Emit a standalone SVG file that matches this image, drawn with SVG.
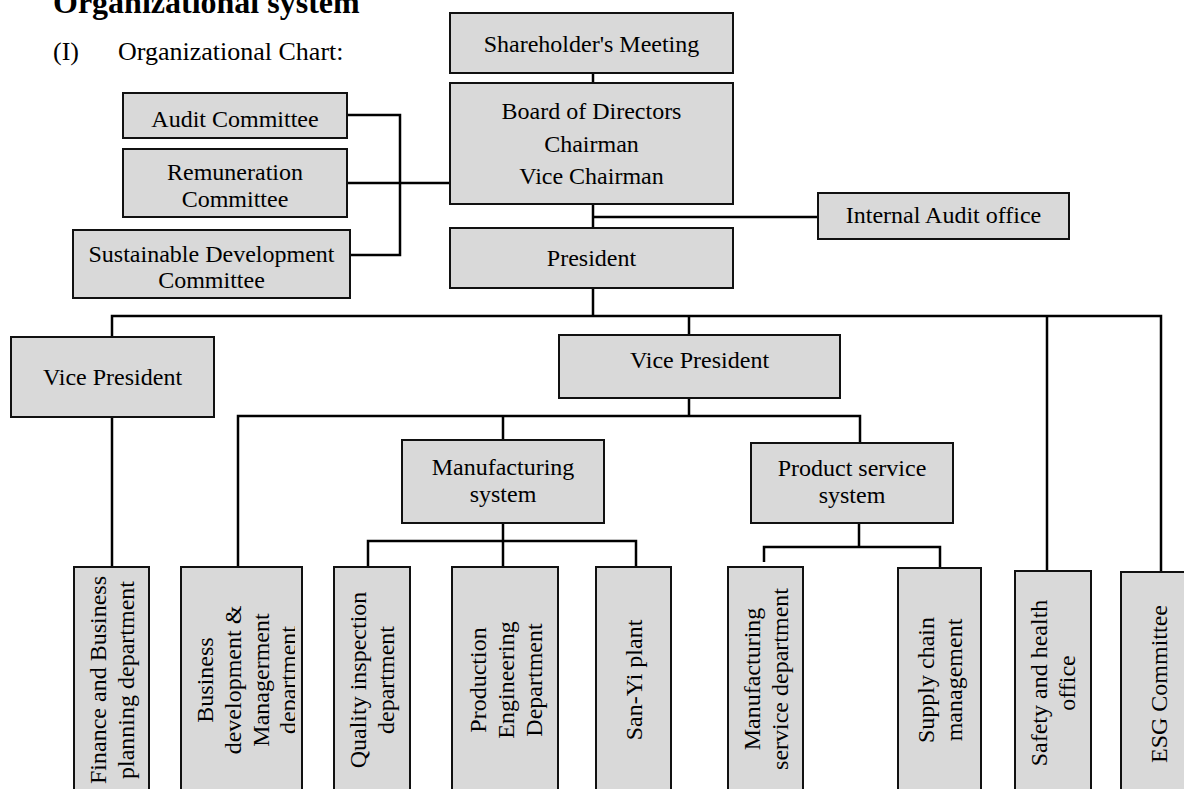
<svg xmlns="http://www.w3.org/2000/svg" width="1184" height="789" viewBox="0 0 1184 789">
<style>
.box{fill:#d9d9d9;stroke:#111;stroke-width:2}
.ln{fill:none;stroke:#000;stroke-width:2.5}
text{font-family:"Liberation Serif","Times New Roman",serif;font-size:24px;fill:#000}
.c{text-anchor:middle}
</style>
<defs>
<clipPath id="clipBD"><rect x="180" y="560" width="115" height="240"/></clipPath>
</defs>
<rect width="1184" height="789" fill="#fff"/>
<text x="53" y="13" style="font-size:32px;font-weight:bold">Organizational system</text>
<text x="53" y="60" style="font-size:26px">(I)</text>
<text x="118" y="60" style="font-size:26px">Organizational Chart:</text>

<g id="connectors">
<path class="ln" d="M593 73V83M593 204V316M593 217H818"/>
<path class="ln" d="M347 115H400V255H350M347 183H450"/>
<path class="ln" d="M112 337V316H1161V572M1047 316V571M689 316V335M112 417V567"/>
<path class="ln" d="M689 398V416M238 567V416H860V443M503 416V440"/>
<path class="ln" d="M503 523V541M368 567V541H636V567M503 541V567"/>
<path class="ln" d="M859 523V547M764 562V547H940V571"/>
</g>

<g id="shareholders"><rect class="box" x="450" y="13" width="283" height="60"/><text class="c" x="591.5" y="52">Shareholder's Meeting</text></g>
<g id="board"><rect class="box" x="450" y="83" width="283" height="121"/><text class="c" x="591.5" y="119">Board of Directors</text><text class="c" x="591.5" y="152">Chairman</text><text class="c" x="591.5" y="184">Vice Chairman</text></g>
<g id="internal-audit"><rect class="box" x="818" y="193" width="251" height="46"/><text class="c" x="943.5" y="223">Internal Audit office</text></g>
<g id="president"><rect class="box" x="450" y="228" width="283" height="60"/><text class="c" x="591.5" y="266">President</text></g>
<g id="audit-committee"><rect class="box" x="123" y="93" width="224" height="45"/><text class="c" x="235" y="127">Audit Committee</text></g>
<g id="remuneration"><rect class="box" x="123" y="149" width="224" height="68"/><text class="c" x="235" y="180">Remuneration</text><text class="c" x="235" y="207">Committee</text></g>
<g id="sustainable"><rect class="box" x="73" y="230" width="277" height="68"/><text class="c" x="211.5" y="262">Sustainable Development</text><text class="c" x="211.5" y="288">Committee</text></g>
<g id="vp-left"><rect class="box" x="11" y="337" width="203" height="80"/><text class="c" x="112.5" y="385">Vice President</text></g>
<g id="vp-right"><rect class="box" x="559" y="335" width="281" height="63"/><text class="c" x="699.5" y="368">Vice President</text></g>
<g id="manufacturing"><rect class="box" x="402" y="440" width="202" height="83"/><text class="c" x="503" y="475">Manufacturing</text><text class="c" x="503" y="502">system</text></g>
<g id="product-service"><rect class="box" x="751" y="443" width="202" height="80"/><text class="c" x="852" y="476">Product service</text><text class="c" x="852" y="503">system</text></g>

<g id="finance"><rect class="box" x="74" y="567" width="75" height="240"/>
<text class="c" transform="translate(105.5,680) rotate(-90)">Finance and Business</text>
<text class="c" transform="translate(133.5,680) rotate(-90)">planning department</text></g>
<g id="business-dev"><rect class="box" x="181" y="567" width="121" height="240"/>
<g clip-path="url(#clipBD)">
<text class="c" transform="translate(213,680) rotate(-90)">Business</text>
<text class="c" transform="translate(241,680) rotate(-90)">development &amp;</text>
<text class="c" transform="translate(269,680) rotate(-90)">Managerment</text>
<text class="c" transform="translate(296,680) rotate(-90)">department</text></g></g>
<g id="quality"><rect class="box" x="334" y="567" width="76" height="240"/>
<text class="c" transform="translate(366,680) rotate(-90)">Quality inspection</text>
<text class="c" transform="translate(394,680) rotate(-90)">department</text></g>
<g id="production"><rect class="box" x="452" y="567" width="106" height="240"/>
<text class="c" transform="translate(486,680) rotate(-90)">Production</text>
<text class="c" transform="translate(514,680) rotate(-90)">Engineering</text>
<text class="c" transform="translate(542,680) rotate(-90)">Department</text></g>
<g id="san-yi"><rect class="box" x="596" y="567" width="75" height="240"/>
<text class="c" transform="translate(642,680) rotate(-90)">San-Yi plant</text></g>
<g id="mfg-service"><rect class="box" x="728" y="567" width="75" height="240"/>
<text class="c" transform="translate(759.5,679) rotate(-90)">Manufacturing</text>
<text class="c" transform="translate(787.5,679) rotate(-90)">service department</text></g>
<g id="supply-chain"><rect class="box" x="898" y="568" width="83" height="240"/>
<text class="c" transform="translate(933.5,680) rotate(-90)">Supply chain</text>
<text class="c" transform="translate(961.5,680) rotate(-90)">management</text></g>
<g id="safety"><rect class="box" x="1015" y="571" width="76" height="240"/>
<text class="c" transform="translate(1047,683) rotate(-90)">Safety and health</text>
<text class="c" transform="translate(1075,683) rotate(-90)">office</text></g>
<g id="esg"><rect class="box" x="1121" y="572" width="76" height="240"/>
<text class="c" transform="translate(1167,684) rotate(-90)">ESG Committee</text></g>
</svg>
